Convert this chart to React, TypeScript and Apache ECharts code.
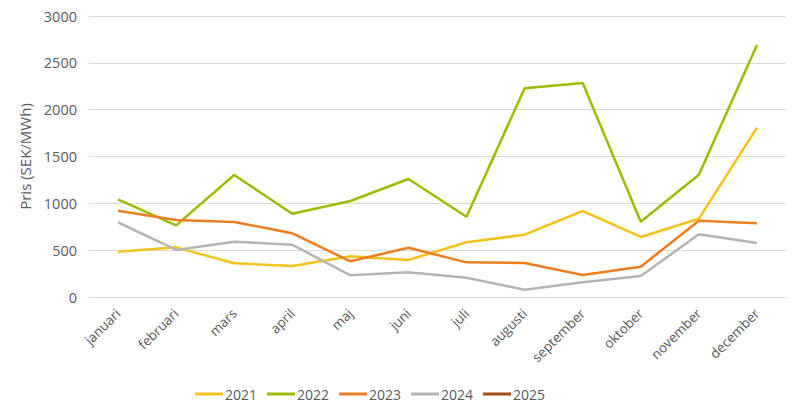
import React, { useEffect, useRef } from "react";
import * as echarts from "echarts";

const months = ["januari", "februari", "mars", "april", "maj", "juni", "juli", "augusti", "september", "oktober", "november", "december"];
const y2021 = [484, 530, 360, 331, 434, 395, 584, 665, 918, 641, 836, 1807];
const y2022 = [1043, 765, 1302, 889, 1025, 1260, 857, 2228, 2285, 804, 1306, 2690];
const y2023 = [921, 822, 801, 680, 381, 526, 370, 363, 235, 324, 815, 787];
const y2024 = [797, 502, 590, 558, 232, 264, 206, 78, 158, 224, 669, 576];
const y2025: (number | null)[] = [];
const yTicks = [0, 500, 1000, 1500, 2000, 2500, 3000];

const seriesDefs = [
  { name: "2021", data: y2021, color: "#F5C21B" },
  { name: "2022", data: y2022, color: "#9DBB00" },
  { name: "2023", data: y2023, color: "#EE7D1F" },
  { name: "2024", data: y2024, color: "#B4B4B4" },
  { name: "2025", data: y2025, color: "#9E4A10" },
];

export default function App() {
  const ref = useRef<HTMLDivElement>(null);
  useEffect(() => {
    if (!ref.current) return;
    const chart = echarts.init(ref.current, undefined, { renderer: "svg" });
    const font = "'Open Sans', 'Noto Sans', sans-serif";
    chart.setOption({
      animation: false,
      textStyle: { fontFamily: font },
      grid: { left: 89, right: 14, top: 16, bottom: 118, containLabel: false },
      legend: {
        left: 190,
        top: 382,
        icon: "rect",
        itemWidth: 28,
        itemHeight: 3,
        itemGap: 10,
        textStyle: { color: "#595959", fontSize: 14, fontFamily: font, padding: [0, 0, 0, -3] },
        data: seriesDefs.map((s) => s.name),
      },
      xAxis: {
        type: "category",
        data: months,
        boundaryGap: true,
        axisLine: { show: true, lineStyle: { color: "#D9D9D9", width: 1 } },
        axisTick: { show: false },
        axisLabel: { rotate: 45, color: "#595959", fontSize: 13.5, margin: 14, fontFamily: font },
      },
      yAxis: {
        type: "value",
        min: yTicks[0],
        max: yTicks[yTicks.length - 1],
        interval: 500,
        name: "Pris (SEK/MWh)",
        nameLocation: "middle",
        nameGap: 54,
        nameTextStyle: { color: "#595959", fontSize: 15, fontFamily: font },
        axisLine: { show: false },
        axisTick: { show: false },
        splitLine: { lineStyle: { color: "#D9D9D9", width: 1 } },
        axisLabel: { color: "#595959", fontSize: 14.5, margin: 12, fontFamily: font, formatter: (v: number) => String(v) },
      },
      series: seriesDefs.map((s) => ({
        name: s.name,
        type: "line",
        data: s.data,
        symbol: "none",
        showSymbol: false,
        lineStyle: { color: s.color, width: 2.5 },
        itemStyle: { color: s.color },
      })),
    });
    return () => chart.dispose();
  }, []);
  return <div ref={ref} style={{ width: 800, height: 415, margin: -8 }} />;
}
